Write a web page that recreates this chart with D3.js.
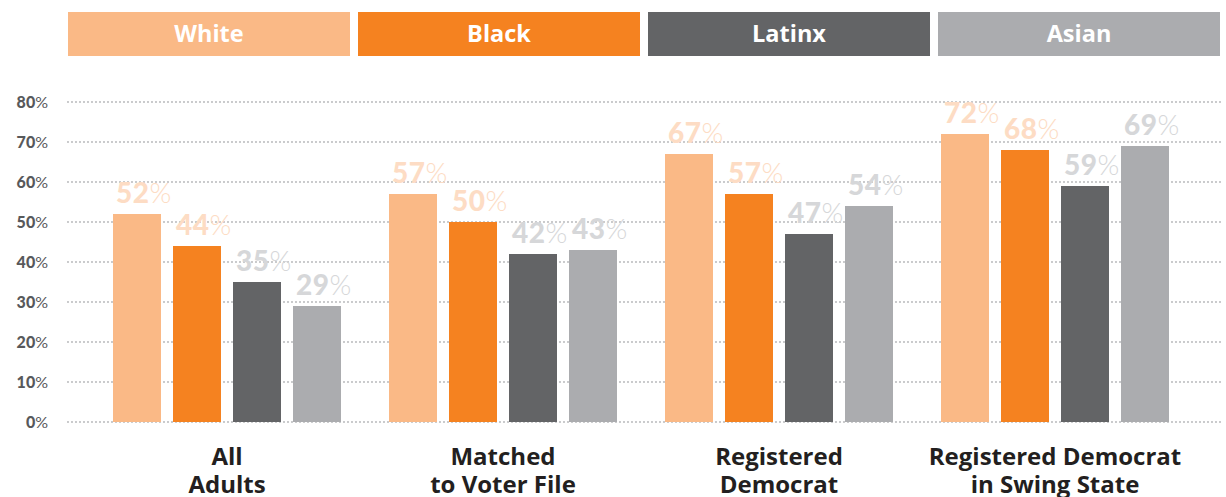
<!DOCTYPE html>
<html>
<head>
<meta charset="utf-8">
<script src="https://cdn.jsdelivr.net/npm/d3@7"></script>
<style>
  body { margin: 0; background: #fff; }
  svg { display: block; font-family: Lato, "Open Sans", sans-serif; }
</style>
</head>
<body>
<svg id="chart" width="1226" height="497"></svg>
<script>
// data
var races = ["White", "Black", "Latinx", "Asian"];
var groups = ["All Adults", "Matched to Voter File", "Registered Democrat", "Registered Democrat in Swing State"];
var groupLines = [["All", "Adults"], ["Matched", "to Voter File"], ["Registered", "Democrat"], ["Registered Democrat", "in Swing State"]];
var white = [52, 57, 67, 72];
var black = [44, 50, 57, 68];
var latinx = [35, 42, 47, 59];
var asian = [29, 43, 54, 69];
var yTicks = [0, 10, 20, 30, 40, 50, 60, 70, 80];

var series = [white, black, latinx, asian];
var colors = ["#fab986", "#f58220", "#636466", "#abacaf"];
var labelColors = ["#fddcc4", "#fddcc4", "#d6d7d9", "#d6d7d9"];

var svg = d3.select("#chart");

var y = d3.scaleLinear().domain([0, 80]).range([422, 102]);

var x0 = d3.scaleBand().domain(groups).range([89, 1193])
    .paddingInner(48 / 276).paddingOuter(24 / 276);
var x1 = d3.scaleBand().domain(races).range([0, x0.bandwidth()])
    .paddingInner(0.2).paddingOuter(0);

var legendX = d3.scaleBand().domain(races).range([68, 1220]).paddingInner(8 / 290);

// legend
var legend = svg.append("g").selectAll("g")
    .data(races)
    .enter()
    .append("g");
legend.append("rect")
    .attr("x", function (d) { return legendX(d); })
    .attr("y", 12)
    .attr("width", legendX.bandwidth())
    .attr("height", 44)
    .attr("fill", function (d, i) { return colors[i]; });
legend.append("text")
    .attr("x", function (d) { return legendX(d) + legendX.bandwidth() / 2; })
    .attr("y", 42)
    .attr("text-anchor", "middle")
    .attr("fill", "#fff")
    .attr("font-family", "'Open Sans', sans-serif")
    .attr("font-size", 23.5)
    .attr("font-weight", 700)
    .text(function (d) { return d; });

// grid
svg.append("g").selectAll("line")
    .data(yTicks)
    .enter()
    .append("line")
    .attr("x1", 68)
    .attr("x2", 1222)
    .attr("y1", function (d) { return y(d); })
    .attr("y2", function (d) { return y(d); })
    .attr("stroke", "#b9babc")
    .attr("stroke-width", 2)
    .attr("stroke-linecap", "round")
    .attr("stroke-dasharray", "0,4");

// y labels
var yl = svg.append("g").selectAll("text")
    .data(yTicks)
    .enter()
    .append("text")
    .attr("x", 48)
    .attr("y", function (d) { return y(d) + 6; })
    .attr("text-anchor", "end")
    .attr("fill", "#58595b")
    .attr("font-size", 16);
yl.append("tspan").attr("font-weight", 900).text(function (d) { return d; });
yl.append("tspan").attr("font-weight", 400).text("%");

// bars
var g = svg.append("g").selectAll("g")
    .data(groups)
    .enter()
    .append("g")
    .attr("transform", function (d) { return "translate(" + x0(d) + ",0)"; });

g.selectAll("rect")
    .data(function (d, gi) { return races.map(function (r, ri) { return {race: r, ri: ri, v: series[ri][gi]}; }); })
    .enter()
    .append("rect")
    .attr("x", function (d) { return x1(d.race); })
    .attr("y", function (d) { return y(d.v); })
    .attr("width", x1.bandwidth())
    .attr("height", function (d) { return y(0) - y(d.v); })
    .attr("fill", function (d) { return colors[d.ri]; });

var vl = g.selectAll("text.val")
    .data(function (d, gi) { return races.map(function (r, ri) { return {race: r, ri: ri, v: series[ri][gi]}; }); })
    .enter()
    .append("text")
    .attr("class", "val")
    .attr("x", function (d) { return x1(d.race) + 3; })
    .attr("y", function (d) { return y(d.v) - 11; })
    .attr("fill", function (d) { return labelColors[d.ri]; })
    .attr("font-size", 28)
    .attr("letter-spacing", 0.5);
vl.append("tspan").attr("font-weight", 900).text(function (d) { return d.v; });
vl.append("tspan").attr("font-weight", 300).text("%");

// category labels
g.each(function (d, gi) {
    var t = d3.select(this).append("text")
        .attr("x", x0.bandwidth() / 2)
        .attr("y", 465)
        .attr("text-anchor", "middle")
        .attr("fill", "#231f20")
        .attr("font-family", "'Open Sans', sans-serif")
        .attr("font-size", 24)
        .attr("font-weight", 700);
    t.selectAll("tspan")
        .data(groupLines[gi])
        .enter()
        .append("tspan")
        .attr("x", x0.bandwidth() / 2)
        .attr("dy", function (l, i) { return i === 0 ? 0 : 28; })
        .text(function (l) { return l; });
});
</script>
</body>
</html>
